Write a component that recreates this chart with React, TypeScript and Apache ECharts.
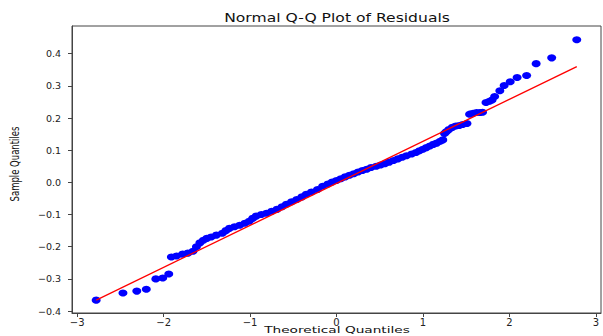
import React, { useEffect, useRef } from "react";
import * as echarts from "echarts";

// Theoretical quantiles (x) and sample quantiles (y)
const theoretical = [
  -2.78, -2.47, -2.31, -2.2, -2.09, -2.01, -1.94,
  -1.91, -1.85, -1.78, -1.72, -1.66, -1.62, -1.58, -1.54, -1.5, -1.45, -1.39, -1.32,
  -1.28, -1.24, -1.18, -1.12, -1.06, -1.01, -0.97, -0.93, -0.87, -0.81, -0.75, -0.69,
  -0.63, -0.58, -0.52, -0.46, -0.4, -0.35, -0.29, -0.22, -0.16, -0.1, -0.05, 0.0,
  0.05, 0.1, 0.15, 0.2, 0.25, 0.3, 0.35, 0.4, 0.46, 0.51, 0.56, 0.61, 0.66, 0.71,
  0.76, 0.81, 0.87, 0.92, 0.96, 1.0, 1.04, 1.08, 1.12, 1.16, 1.2, 1.23,
  1.25, 1.27, 1.3, 1.34, 1.38, 1.42, 1.46, 1.51, 1.54, 1.58, 1.62, 1.66, 1.69,
  1.73, 1.77, 1.8, 1.83, 1.89, 1.94, 2.01, 2.09, 2.2, 2.31, 2.49, 2.78,
];
const sample = [
  -0.366, -0.344, -0.338, -0.332, -0.3, -0.297, -0.285,
  -0.232, -0.229, -0.223, -0.22, -0.214, -0.2, -0.188, -0.18, -0.174, -0.17, -0.164, -0.158,
  -0.15, -0.143, -0.138, -0.133, -0.127, -0.121, -0.112, -0.105, -0.1, -0.096, -0.09, -0.084,
  -0.076, -0.068, -0.06, -0.053, -0.045, -0.037, -0.03, -0.022, -0.012, -0.005, 0.001, 0.006,
  0.011, 0.017, 0.022, 0.027, 0.032, 0.037, 0.041, 0.046, 0.05, 0.054, 0.058, 0.063, 0.068, 0.073,
  0.078, 0.083, 0.088, 0.093, 0.098, 0.103, 0.108, 0.113, 0.118, 0.122, 0.128, 0.132,
  0.152, 0.157, 0.164, 0.171, 0.175, 0.177, 0.18, 0.183, 0.212, 0.215, 0.217, 0.217, 0.218,
  0.248, 0.252, 0.256, 0.267, 0.285, 0.301, 0.313, 0.326, 0.332, 0.369, 0.387, 0.443,
];

// Reference line end points
const fitX = [-2.78, 2.78];
const fitY = [-0.366, 0.36];

const xTicks = [-3, -2, -1, 0, 1, 2, 3];
const yTicks = [-0.4, -0.3, -0.2, -0.1, 0.0, 0.1, 0.2, 0.3, 0.4];

const titleText = "Normal Q-Q Plot of Residuals";
const xName = "Theoretical Quantiles";
const yName = "Sample Quantiles";

const fmtMinus = (s: string) => s.replace("-", "\u2212");

export default function App() {
  const ref = useRef<HTMLDivElement>(null);
  useEffect(() => {
    const chart = echarts.init(ref.current!, null, { renderer: "svg" });
    const axisColor = "#444";
    const font = "DejaVu Sans";
    chart.setOption({
      animation: false,
      grid: {
        left: 72,
        right: 2,
        top: 26,
        bottom: 23,
        show: true,
        borderColor: axisColor,
        borderWidth: 1,
      },
      xAxis: {
        type: "value",
        min: -3.06,
        max: 3.06,
        axisLine: { show: true, onZero: false, lineStyle: { color: axisColor } },
        axisTick: {
          show: true,
          inside: false,
          length: 4,
          customValues: xTicks,
          lineStyle: { color: axisColor },
        },
        axisLabel: {
          customValues: xTicks,
          formatter: (v: number) => fmtMinus(String(v)),
          fontFamily: font,
          fontSize: 10,
          color: "#222",
          margin: 4,
        },
        splitLine: { show: false },
      },
      yAxis: {
        type: "value",
        min: -0.406,
        max: 0.486,
        axisLine: { show: true, onZero: false, lineStyle: { color: axisColor } },
        axisTick: {
          show: true,
          inside: false,
          length: 4,
          customValues: yTicks,
          lineStyle: { color: axisColor },
        },
        axisLabel: {
          customValues: yTicks,
          formatter: (v: number) => fmtMinus(v.toFixed(1)),
          fontFamily: font,
          fontSize: 9.5,
          color: "#222",
          margin: 11,
        },
        splitLine: { show: false },
      },
      graphic: [
        {
          type: "text",
          x: 337,
          y: 18,
          scaleX: 1.3,
          style: {
            text: titleText,
            font: `12px '${font}'`,
            fill: "#111",
            align: "center",
            verticalAlign: "middle",
          },
        },
        {
          type: "text",
          x: 337,
          y: 330,
          scaleX: 1.37,
          scaleY: 0.95,
          style: {
            text: xName,
            font: `10px '${font}'`,
            fill: "#111",
            align: "center",
            verticalAlign: "middle",
          },
        },
        {
          type: "text",
          x: 15,
          y: 164,
          rotation: Math.PI / 2,
          scaleX: 0.85,
          scaleY: 1.15,
          style: {
            text: yName,
            font: `10px '${font}'`,
            fill: "#111",
            align: "center",
            verticalAlign: "middle",
          },
        },
      ],
      series: [
        {
          type: "scatter",
          data: theoretical.map((x, i) => [x, sample[i]]),
          symbol: "circle",
          symbolSize: [9, 7],
          itemStyle: { color: "#0000ff", opacity: 1 },
          z: 2,
        },
        {
          type: "line",
          data: fitX.map((x, i) => [x, fitY[i]]),
          showSymbol: false,
          symbol: "none",
          lineStyle: { color: "#ff0000", width: 1.3 },
          z: 3,
        },
      ],
    });
    return () => chart.dispose();
  }, []);
  return (
    <div
      ref={ref}
      style={{ position: "absolute", left: 0, top: 0, width: 603, height: 336, background: "#fff" }}
    />
  );
}
